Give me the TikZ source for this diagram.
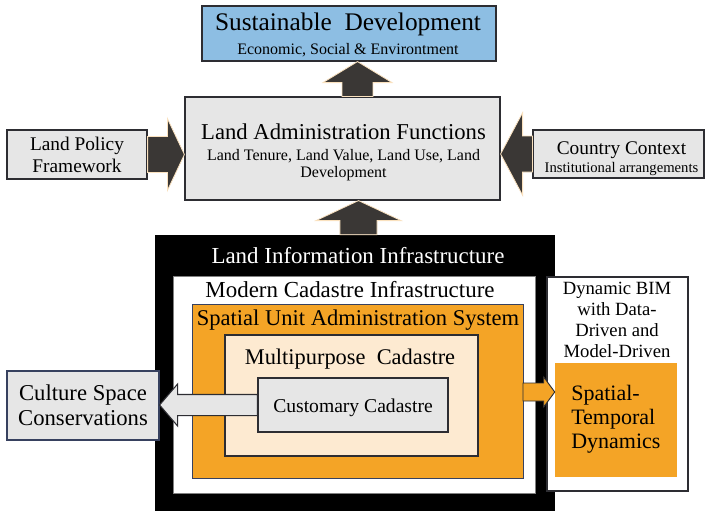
\documentclass[tikz,border=0pt]{standalone}
\usepackage{fontspec}
\setmainfont{Liberation Serif}
\usetikzlibrary{fit,calc}
\definecolor{sdblue}{RGB}{141,190,227}
\definecolor{boxgray}{RGB}{230,230,230}
\definecolor{arrowdark}{RGB}{58,55,53}
\definecolor{orng}{RGB}{244,164,38}
\definecolor{cream}{RGB}{253,234,209}
\definecolor{halo}{RGB}{250,225,190}
\definecolor{edge}{RGB}{45,45,50}
\definecolor{navyedge}{RGB}{55,65,95}
\newcommand\fs[1]{\fontsize{#1}{#1}\selectfont}
% style, base, tip, shaft half, head half, head length (all in pt)
\newcommand\blockarrow[6]{%
  \coordinate (hb) at ($(#3)!#6!(#2)$);
  \path[#1] ($(#2)!#4!90:(#3)$) -- ($(hb)!#4!90:(#3)$) -- ($(hb)!#5!90:(#3)$) -- (#3)
    -- ($(hb)!#5!-90:(#3)$) -- ($(hb)!#4!-90:(#3)$) -- ($(#2)!#4!-90:(#3)$) -- cycle;}
\begin{document}
\begin{tikzpicture}[x=0.75pt,y=-0.75pt,
  box/.style={inner sep=0pt, draw=edge, line width=0.9pt},
  darkarrow/.style={fill=arrowdark, draw=halo, line width=0.6pt},
  txt/.style={inner sep=0pt, font=\fs{#1}, text height=0.68em, text depth=0.02em, yshift=-2pt},
  txt/.default=12]
\useasboundingbox (0,0) rectangle (706,510);
% top boxes
\node[box, fill=sdblue, fit={(202,6) (496,61)}] (sd) {};
\node[box, fill=boxgray, fit={(185,97) (500,200)}] (laf) {};
\node[box, fill=boxgray, fit={(7,130) (147,179)}] (lpf) {};
\node[box, fill=boxgray, fit={(533,130) (704,178)}] (cc) {};
% arrows into / out of LAF
\coordinate (a1x) at (357.5,0);
\coordinate (a1b) at (a1x |- laf.north);
\coordinate (a1t) at (a1x |- sd.south);
\blockarrow{darkarrow}{a1b}{a1t}{11.6pt}{25.9pt}{15.75pt}
\coordinate (a2t) at (laf.west |- lpf.east);
\blockarrow{darkarrow}{lpf.east}{a2t}{13.5pt}{27pt}{12.75pt}
\coordinate (a3t) at (laf.east |- cc.west);
\blockarrow{darkarrow}{cc.west}{a3t}{13.5pt}{31pt}{16.5pt}
% nested infrastructure
\node[inner sep=0pt, fill=black, fit={(155,235) (555,512)}] (lii) {};
\coordinate (a4x) at (358.5,0);
\coordinate (a4b) at (a4x |- lii.north);
\coordinate (a4t) at (a4x |- laf.south);
\blockarrow{darkarrow}{a4b}{a4t}{13.9pt}{31.9pt}{15pt}
\node[inner sep=0pt, fill=white, draw=gray, line width=0.6pt, fit={(173,276) (535,493)}] (mci) {};
\node[inner sep=0pt, fill=orng, draw=navyedge, line width=0.7pt, fit={(192,304) (523,478)}] (suas) {};
\node[inner sep=0pt, fill=cream, draw=edge, line width=0.8pt, fit={(225,335) (478,456)}] (mc) {};
\node[box, fill=boxgray, fit={(258,378) (448,432)}] (cust) {};
\node[box, draw=navyedge, fill=boxgray, fit={(7,371) (159,440)}] (csc) {};
\coordinate (a5t) at (csc.east |- cust.west);
\blockarrow{fill=boxgray, draw=edge, line width=0.8pt}{cust.west}{a5t}{7.9pt}{15.75pt}{13.5pt}
\node[inner sep=0pt, fill=white, draw=edge, line width=0.8pt, fit={(547,277) (688,491)}] (bim) {};
\node[inner sep=0pt, fill=orng, fit={(555,363) (677,477)}] (std) {};
\coordinate (a6b) at (523,392);
\coordinate (a6t) at (std.west |- a6b);
\blockarrow{fill=orng, draw=edge, line width=0.7pt}{a6b}{a6t}{6.75pt}{11.25pt}{8.25pt}
% texts
\node[txt=19] (sdt) at (348,23) {Sustainable\ \ Development};
\node[txt=12] (sds) at (348,47) {Economic, Social \& Environtment};
\node[txt=17] (laft) at (343.5,132) {Land Administration Functions};
\node[txt=12] (lafs1) at (343.5,153) {Land Tenure, Land Value, Land Use, Land};
\node[txt=12] (lafs2) at (343.5,170) {Development};
\node[txt=14.5] (lpf1) at (77,143) {Land Policy};
\node[txt=14.5] (lpf2) at (77,165) {Framework};
\node[txt=14.5] (cct) at (621.5,147) {Country Context};
\node[txt=11] (ccs) at (621.5,165) {Institutional arrangements};
\node[txt=17.2, text=white] (liit) at (358,256) {Land Information Infrastructure};
\node[txt=17.2] (mcit) at (350,290) {Modern Cadastre Infrastructure};
\node[txt=16.9] (suast) at (358,318) {Spatial Unit Administration System};
\node[txt=16.8] (mct) at (350,357) {Multipurpose\ \ Cadastre};
\node[txt=14.7] (custt) at (353,405) {Customary Cadastre};
\node[txt=17] (csc1) at (83,393) {Culture Space};
\node[txt=17] (csc2) at (83,418) {Conservations};
\node[txt=14] (bim1) at (617,287) {Dynamic BIM};
\node[txt=14] (bim2) at (617,308) {with Data-};
\node[txt=14] (bim3) at (617,329) {Driven and};
\node[txt=14] (bim4) at (617,350) {Model-Driven};
\node[txt=16.5, anchor=west] (std1) at (571,393) {Spatial-};
\node[txt=16.5, anchor=west] (std2) at (571,417) {Temporal};
\node[txt=16.5, anchor=west] (std3) at (571,441) {Dynamics};
\end{tikzpicture}
\end{document}
